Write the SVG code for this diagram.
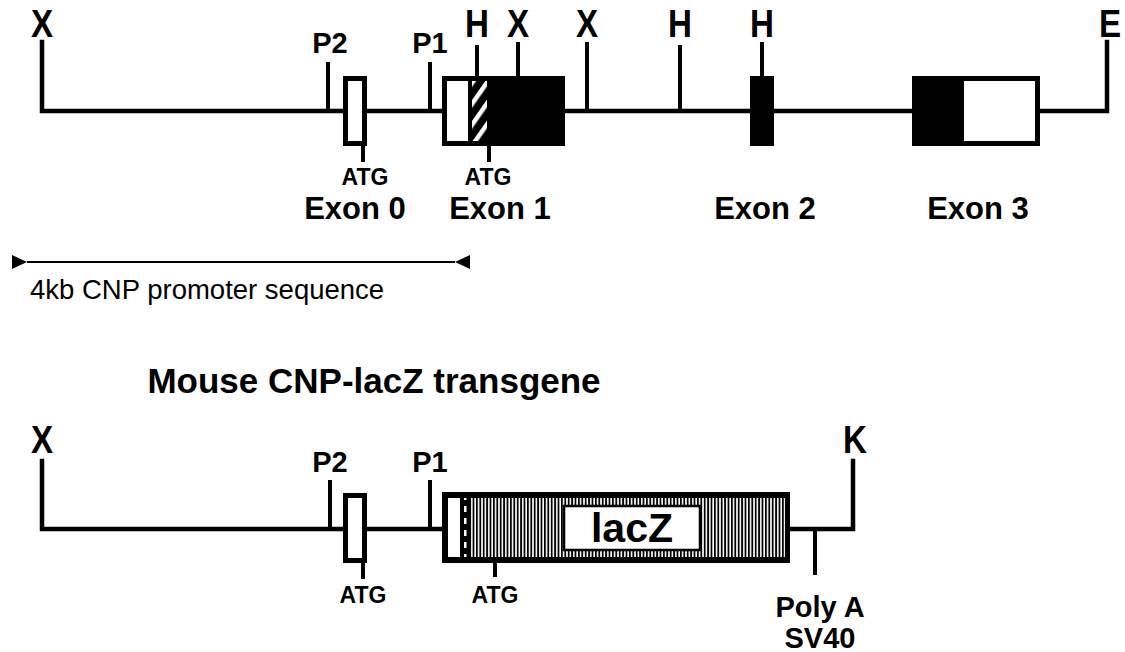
<svg xmlns="http://www.w3.org/2000/svg" width="1125" height="652" viewBox="0 0 1125 652">
<style>
.ln{stroke:#000;stroke-width:4.5;fill:none;stroke-linecap:square}
.tk{stroke:#000;stroke-width:4;fill:none}
.bx{stroke:#000;stroke-width:5;fill:#fff}
.b{font-family:"Liberation Sans",Arial,sans-serif;font-weight:bold;fill:#000;text-anchor:middle}
.site{font-size:39px}
.p{font-size:29px}
.atg{font-size:23px}
.ex{font-size:31px}
.r{font-family:"Liberation Sans",Arial,sans-serif;fill:#000}
</style>
<defs>
<pattern id="hatch" patternUnits="userSpaceOnUse" width="12" height="12" patternTransform="rotate(35)">
<rect width="12" height="12" fill="#000"/>
<rect x="0" y="0" width="4.5" height="12" fill="#fff"/>
</pattern>
<pattern id="vstripe" patternUnits="userSpaceOnUse" width="3.4" height="10">
<rect width="3.4" height="10" fill="#fff"/>
<rect x="0" y="0" width="1.8" height="10" fill="#000"/>
</pattern>
<pattern id="dash" patternUnits="userSpaceOnUse" width="10" height="12">
<rect width="10" height="12" fill="#000"/>
<rect x="4" y="2" width="2.5" height="6" fill="#fff"/>
</pattern>
</defs>

<g id="connectors">
<path class="ln" d="M42,42 V111 H1107 V42"/>
<path class="tk" d="M328,62 V111 M430,62 V111 M477,45 V76 M518,42 V76 M587,42 V111 M680,45 V111 M762,42 V76 M363,146 V162 M489,146 V162"/>
<path class="ln" d="M42,461 V529 H853 V461"/>
<path class="tk" d="M330,480 V529 M430,480 V529 M815,529 V575 M363,563 V579 M495,563 V577"/>
<line x1="27" y1="262" x2="455" y2="262" stroke="#000" stroke-width="2"/>
<path d="M12,255 L27,262 L12,269 z" fill="#000"/>
<path d="M470,255 L455,262 L470,269 z" fill="#000"/>
</g>

<g id="top-sites">
<text class="b site" transform="translate(42,37) scale(0.85,1)">X</text>
<text class="b p" x="330" y="53">P2</text>
<text class="b p" x="430" y="53">P1</text>
<text class="b site" transform="translate(477,37) scale(0.85,1)">H</text>
<text class="b site" transform="translate(518,37) scale(0.85,1)">X</text>
<text class="b site" transform="translate(587,37) scale(0.85,1)">X</text>
<text class="b site" transform="translate(680,37) scale(0.85,1)">H</text>
<text class="b site" transform="translate(762,37) scale(0.85,1)">H</text>
<text class="b site" transform="translate(1110,37) scale(0.85,1)">E</text>
</g>

<g id="exon0">
<rect class="bx" x="345.5" y="78.5" width="19" height="65"/>
<text class="b atg" x="365" y="185">ATG</text>
<text class="b ex" x="355" y="219">Exon 0</text>
</g>

<g id="exon1">
<rect class="bx" x="444.5" y="78.5" width="118" height="65"/>
<rect x="468" y="76" width="97" height="70" fill="#000"/>
<rect x="472" y="81" width="15" height="60" fill="url(#hatch)"/>
<text class="b atg" x="488" y="185">ATG</text>
<text class="b ex" x="500" y="219">Exon 1</text>
</g>

<g id="exon2">
<rect x="750" y="76" width="24" height="70" fill="#000"/>
<text class="b ex" x="765" y="219">Exon 2</text>
</g>

<g id="exon3">
<rect class="bx" x="914.5" y="78.5" width="123" height="65"/>
<rect x="912" y="76" width="52" height="70" fill="#000"/>
<text class="b ex" x="978" y="219">Exon 3</text>
</g>

<g id="promoter-label">
<text class="r" x="30" y="299" font-size="27.5">4kb CNP promoter sequence</text>
</g>

<g id="title">
<text class="b" x="374" y="393" font-size="35">Mouse CNP-lacZ transgene</text>
</g>

<g id="bottom-sites">
<text class="b site" transform="translate(42,453) scale(0.85,1)">X</text>
<text class="b p" x="330" y="472">P2</text>
<text class="b p" x="430" y="472">P1</text>
<text class="b site" transform="translate(855,453) scale(0.85,1)">K</text>
</g>

<g id="t-exon0">
<rect class="bx" x="345.5" y="495.5" width="19" height="65"/>
<text class="b atg" x="363" y="603">ATG</text>
</g>

<g id="lacz-construct">
<rect x="442" y="492" width="348" height="71" fill="#000"/>
<rect x="448" y="498" width="12" height="59" fill="#fff"/>
<rect x="460" y="498" width="10" height="59" fill="url(#dash)"/>
<rect x="470" y="498" width="315" height="59" fill="url(#vstripe)"/>
<rect x="564" y="506" width="136" height="44" fill="#fff" stroke="#000" stroke-width="2.5"/>
<text class="b" x="632" y="542" font-size="41">lacZ</text>
<text class="b atg" x="495" y="603">ATG</text>
</g>

<g id="polyA">
<text class="b p" x="820" y="617">Poly A</text>
<text class="b p" x="820" y="648">SV40</text>
</g>
</svg>
